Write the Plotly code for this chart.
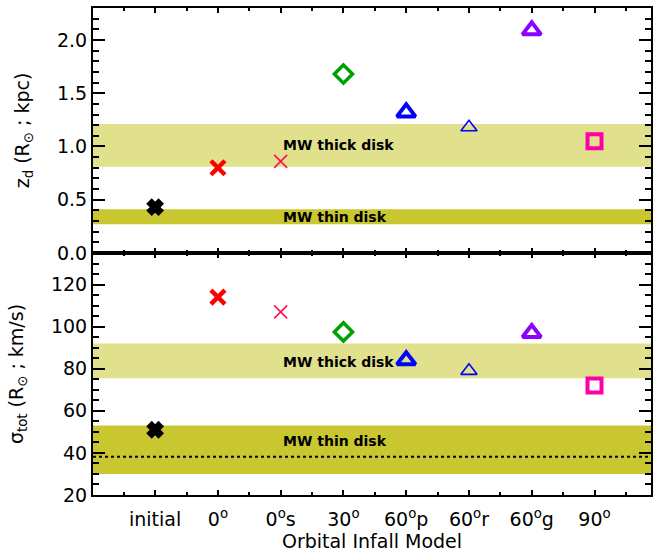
import plotly.graph_objects as go
from plotly.subplots import make_subplots

# Orbital infall models (x categories)
models = ["initial", "0<sup>o</sup>", "0<sup>o</sup>s", "30<sup>o</sup>",
          "60<sup>o</sup>p", "60<sup>o</sup>r", "60<sup>o</sup>g", "90<sup>o</sup>"]

# Disk scale height z_d (kpc) and total velocity dispersion sigma_tot (km/s)
z_d = [0.43, 0.80, 0.86, 1.68, 1.32, 1.18, 2.09, 1.05]
sigma_tot = [51.0, 114.0, 107.0, 97.5, 84.0, 79.0, 97.0, 72.0]

# Milky Way reference ranges
mw_thick_z = [0.81, 1.21]
mw_thin_z = [0.27, 0.41]
mw_thick_sigma = [75.5, 92.0]
mw_thin_sigma = [30.0, 53.0]
sigma_ref_line = 38.2

# Marker styles per model
symbols = ["x", "x-thin-open", "x-thin-open", "diamond-open", "triangle-up-open",
           "triangle-up-open", "triangle-up-open", "square-open"]
colors = ["#000000", "#ff0000", "#ff1050", "#00a000", "#0000ff", "#0000ff",
          "#8c00ff", "#ff00a8"]
sizes = [12, 14, 13, 14, 16, 14, 16, 14]
widths = [3, 4.5, 1.6, 3.5, 4, 1.6, 4, 4]

FONT = "DejaVu Sans"
BAND_LIGHT = "#e1e08d"
BAND_DARK = "#c9c72f"

xpos = list(range(len(models)))

fig = make_subplots(rows=2, cols=1, shared_xaxes=True, vertical_spacing=0)

for row, vals in ((1, z_d), (2, sigma_tot)):
    fig.add_trace(go.Scatter(
        x=xpos, y=vals, mode="markers", showlegend=False,
        marker=dict(symbol=symbols, color=colors, size=sizes, opacity=1,
                    line=dict(color=colors, width=widths)),
    ), row=row, col=1)

# Shaded MW bands
bands = [("y", mw_thick_z, BAND_LIGHT), ("y", mw_thin_z, BAND_DARK),
         ("y2", mw_thick_sigma, BAND_LIGHT), ("y2", mw_thin_sigma, BAND_DARK)]
for yref, (lo, hi), col in bands:
    xref = "x domain" if yref == "y" else "x2 domain"
    fig.add_shape(type="rect", xref=xref, yref=yref, x0=0, x1=1, y0=lo, y1=hi,
                  fillcolor=col, line_width=0, layer="below")

fig.add_shape(type="line", xref="x2 domain", yref="y2", x0=0, x1=1,
              y0=sigma_ref_line, y1=sigma_ref_line,
              line=dict(color="black", width=2, dash="dot"))

labels = [("x", "y", "MW thick disk", sum(mw_thick_z) / 2),
          ("x", "y", "MW thin disk", sum(mw_thin_z) / 2),
          ("x2", "y2", "MW thick disk", sum(mw_thick_sigma) / 2 - 0.5),
          ("x2", "y2", "MW thin disk", 45.5)]
for xr, yr, txt, yv in labels:
    fig.add_annotation(x=2.0, y=yv, xref=xr, yref=yr, text="<b>" + txt + "</b>",
                       showarrow=False, xanchor="left", yanchor="middle",
                       font=dict(family=FONT, size=14, color="black"))

axis_common = dict(showline=True, linecolor="black", linewidth=2, mirror="ticks",
                   ticks="inside", tickcolor="black", showgrid=False, zeroline=False,
                   tickfont=dict(family=FONT, size=19, color="black"))

xaxis_style = dict(axis_common, range=[-0.99, 7.9], tickmode="array",
                   tickvals=xpos, ticktext=models, ticklen=5, tickwidth=1.5,
                   ticklabelstandoff=6,
                   minor=dict(ticks="inside", tickmode="linear", tick0=0.5, dtick=1,
                              ticklen=3, tickwidth=1.5, tickcolor="black"))
fig.update_xaxes(**xaxis_style, row=1, col=1)
fig.update_xaxes(**xaxis_style, row=2, col=1)
fig.update_xaxes(title=dict(text="Orbital Infall Model",
                            font=dict(family=FONT, size=19, color="black"),
                            standoff=6),
                 row=2, col=1)

fig.update_yaxes(**axis_common, range=[0.0, 2.3], tickmode="linear", tick0=0, dtick=0.5,
                 tickformat=".1f", ticklen=12, tickwidth=2,
                 minor=dict(ticks="inside", dtick=0.1, ticklen=6, tickwidth=2,
                            tickcolor="black"),
                 title=dict(text="z<sub>d</sub> (R<sub>⊙</sub> ; kpc)",
                            font=dict(family=FONT, size=19, color="black"),
                            standoff=22),
                 row=1, col=1)
fig.update_yaxes(**axis_common, range=[20, 135], tickmode="linear", tick0=0, dtick=20,
                 ticklen=12, tickwidth=2,
                 minor=dict(ticks="inside", dtick=5, ticklen=6, tickwidth=2,
                            tickcolor="black"),
                 title=dict(text="σ<sub>tot</sub> (R<sub>⊙</sub> ; km/s)",
                            font=dict(family=FONT, size=19, color="black"),
                            standoff=22),
                 row=2, col=1)

split = (495 - 253) / 487
fig.update_layout(
    width=657, height=555,
    margin=dict(l=93, r=4, t=8, b=60),
    plot_bgcolor="white", paper_bgcolor="white",
    yaxis=dict(domain=[split, 1]),
    yaxis2=dict(domain=[0, split]),
)

fig.write_html("out.html")
